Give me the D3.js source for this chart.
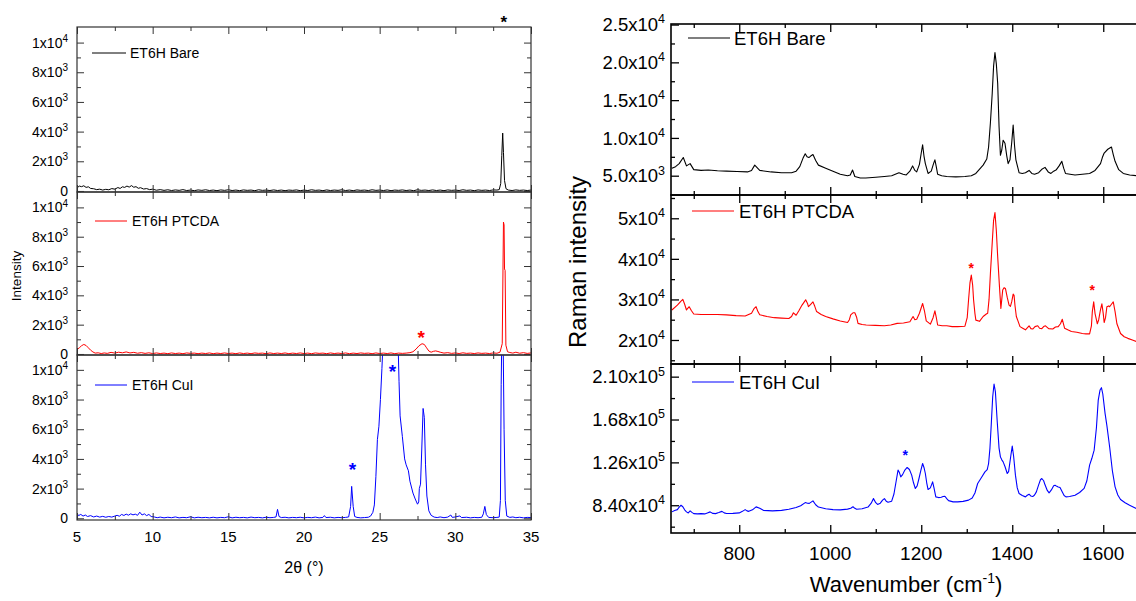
<!DOCTYPE html>
<html>
<head>
<meta charset="utf-8">
<script src="https://d3js.org/d3.v7.min.js"></script>
<style>
  body { margin: 0; background: #fff; }
  svg { font-family: "Liberation Sans", Arial, sans-serif; }
</style>
</head>
<body>
<svg width="1136" height="601"></svg>
<script>
// ---- XRD (left), 2theta vs counts
var xrdBare = [[5.0,200],[5.15,330],[5.3,290],[5.45,350],[5.6,240],[5.75,280],[5.9,170],[6.1,150],[6.3,90],[6.5,120],[6.7,60],[6.9,110],[7.1,80],[7.3,160],[7.5,120],[7.7,230],[7.85,170],[8.0,280],[8.15,240],[8.3,330],[8.45,260],[8.6,360],[8.75,250],[8.9,290],[9.05,180],[9.2,220],[9.4,130],[9.6,160],[9.8,90],[10.0,120],[10.25,50],[10.5,90],[10.75,40],[11.0,80],[11.25,30],[11.5,70],[11.75,40],[12.0,90],[12.25,30],[12.5,60],[12.75,20],[13.0,70],[13.25,40],[13.5,80],[13.75,30],[14.0,60],[14.25,20],[14.5,70],[14.75,40],[15.0,80],[15.25,30],[15.5,60],[15.75,20],[16.0,70],[16.25,40],[16.5,60],[16.75,20],[17.0,80],[17.25,40],[17.5,60],[17.75,30],[18.0,70],[18.25,30],[18.5,60],[18.75,20],[19.0,60],[19.25,40],[19.5,70],[19.75,20],[20.0,60],[20.25,30],[20.5,80],[20.75,40],[21.0,60],[21.25,20],[21.5,70],[21.75,30],[22.0,60],[22.25,40],[22.5,80],[22.75,30],[23.0,60],[23.25,20],[23.5,70],[23.75,40],[24.0,60],[24.25,30],[24.5,80],[24.75,40],[25.0,60],[25.25,30],[25.5,70],[25.75,20],[26.0,60],[26.25,40],[26.5,70],[26.75,30],[27.0,60],[27.25,20],[27.5,80],[27.75,40],[28.0,60],[28.25,30],[28.5,70],[28.75,30],[29.0,60],[29.25,20],[29.5,70],[29.75,40],[30.0,60],[30.25,30],[30.5,80],[30.75,40],[31.0,60],[31.25,20],[31.5,70],[31.75,40],[32.0,60],[32.25,30],[32.5,70],[32.75,60],[32.9,90],[33.0,500],[33.07,2400],[33.13,3900],[33.18,2600],[33.25,700],[33.35,150],[33.5,60],[33.75,30],[34.0,70],[34.25,40],[34.5,60],[34.75,30],[35.0,60]];

var xrdPtcda = [[5.0,300],[5.15,420],[5.3,560],[5.45,650],[5.6,580],[5.75,420],[5.9,260],[6.05,140],[6.2,60],[6.4,80],[6.6,30],[6.8,70],[7.0,40],[7.25,110],[7.5,60],[7.75,120],[8.0,80],[8.25,140],[8.5,70],[8.75,110],[9.0,50],[9.25,90],[9.5,40],[9.75,80],[10.0,30],[10.25,70],[10.5,30],[10.75,60],[11.0,20],[11.25,70],[11.5,30],[11.75,60],[12.0,20],[12.25,70],[12.5,40],[12.75,60],[13.0,20],[13.25,60],[13.5,30],[13.75,70],[14.0,20],[14.25,60],[14.5,30],[14.75,70],[15.0,30],[15.25,60],[15.5,20],[15.75,70],[16.0,30],[16.25,60],[16.5,20],[16.75,70],[17.0,40],[17.25,60],[17.5,20],[17.75,70],[18.0,30],[18.25,60],[18.5,30],[18.75,70],[19.0,20],[19.25,60],[19.5,30],[19.75,70],[20.0,30],[20.25,60],[20.5,20],[20.75,70],[21.0,40],[21.25,60],[21.5,20],[21.75,70],[22.0,30],[22.25,60],[22.5,30],[22.75,70],[23.0,20],[23.25,60],[23.5,30],[23.75,70],[24.0,40],[24.25,60],[24.5,20],[24.75,70],[25.0,30],[25.25,60],[25.5,30],[25.75,70],[26.0,20],[26.25,60],[26.5,40],[26.75,60],[27.0,90],[27.2,150],[27.4,330],[27.6,560],[27.8,700],[27.95,650],[28.1,420],[28.25,200],[28.4,120],[28.55,180],[28.7,210],[28.85,170],[29.0,120],[29.25,60],[29.5,90],[29.75,40],[30.0,70],[30.25,30],[30.5,80],[30.75,40],[31.0,60],[31.25,30],[31.5,70],[31.75,40],[32.0,60],[32.25,30],[32.5,70],[32.75,50],[32.95,120],[33.1,700],[33.18,9000],[33.22,8800],[33.25,5800],[33.29,5700],[33.34,600],[33.45,150],[33.6,100],[33.8,60],[34.0,120],[34.25,50],[34.5,90],[34.75,40],[35.0,70]];

var xrdCui = [[5.0,340],[5.1,180],[5.25,260],[5.4,150],[5.55,220],[5.7,120],[5.9,180],[6.1,90],[6.3,150],[6.5,80],[6.7,130],[6.9,70],[7.1,120],[7.3,80],[7.5,150],[7.65,200],[7.8,140],[7.95,260],[8.1,190],[8.25,280],[8.4,210],[8.55,300],[8.7,230],[8.85,280],[9.0,200],[9.15,410],[9.3,220],[9.45,300],[9.6,180],[9.75,260],[9.9,120],[10.1,90],[10.3,40],[10.5,80],[10.75,30],[11.0,70],[11.25,40],[11.5,90],[11.75,30],[12.0,60],[12.25,40],[12.5,100],[12.75,30],[13.0,70],[13.25,40],[13.5,60],[13.75,30],[14.0,70],[14.25,30],[14.5,60],[14.75,40],[15.0,100],[15.25,30],[15.5,70],[15.75,40],[16.0,60],[16.25,30],[16.5,80],[16.75,40],[17.0,60],[17.25,30],[17.5,70],[17.75,40],[18.0,60],[18.15,90],[18.25,600],[18.35,120],[18.5,50],[18.75,70],[19.0,30],[19.25,60],[19.5,40],[19.75,70],[20.0,30],[20.25,60],[20.5,40],[20.75,80],[21.0,30],[21.25,60],[21.35,180],[21.45,50],[21.75,70],[22.0,30],[22.25,60],[22.5,40],[22.75,60],[22.95,90],[23.08,800],[23.15,2150],[23.25,800],[23.35,120],[23.5,60],[23.75,30],[24.0,50],[24.25,70],[24.4,150],[24.55,400],[24.65,900],[24.75,2800],[24.85,5300],[24.95,6200],[25.05,8000],[25.15,10100],[25.25,12500],[25.5,14000],[26.0,14000],[26.2,12500],[26.28,9200],[26.35,6900],[26.5,5500],[26.65,4000],[26.75,3600],[26.9,3200],[27.0,2500],[27.2,1700],[27.35,1300],[27.5,950],[27.58,1100],[27.62,2000],[27.7,2300],[27.78,4600],[27.87,7400],[27.95,6800],[28.03,3600],[28.12,1500],[28.25,500],[28.4,200],[28.6,80],[28.8,50],[29.0,90],[29.25,40],[29.5,80],[29.7,220],[29.8,60],[30.0,90],[30.3,160],[30.4,50],[30.75,70],[31.0,30],[31.25,60],[31.5,40],[31.75,70],[31.85,300],[31.95,800],[32.05,250],[32.2,60],[32.5,40],[32.75,60],[32.9,80],[32.98,1200],[33.03,9000],[33.08,13000],[33.15,13000],[33.22,6000],[33.3,1200],[33.4,150],[33.6,60],[33.8,90],[34.0,40],[34.25,70],[34.5,30],[34.75,60],[35.0,50]];

// ---- Raman (right), wavenumber vs counts
var ramanBare = [[652,5970],[660,6200],[668,6600],[677,7400],[684,6300],[692,6600],[700,5800],[716,5700],[732,5750],[752,5650],[772,5600],[795,5550],[818,5500],[827,5700],[834,6400],[845,5700],[870,5500],[893,5400],[915,5400],[925,5600],[933,6200],[940,7300],[945,7900],[949,7500],[953,7400],[957,7600],[962,7800],[968,7000],[974,6400],[990,6000],[1006,5600],[1022,5200],[1038,5000],[1044,5100],[1049,5750],[1054,4900],[1066,4700],[1078,4700],[1100,4800],[1119,4900],[1135,5000],[1151,5400],[1160,5200],[1167,5100],[1175,5600],[1181,6300],[1186,5700],[1190,5500],[1196,6500],[1200,8000],[1203,9100],[1206,7600],[1209,6600],[1215,5300],[1222,5600],[1227,6600],[1230,7100],[1233,6200],[1236,5200],[1245,5000],[1256,4900],[1276,4850],[1296,4900],[1310,5000],[1320,5300],[1336,6400],[1344,7200],[1348,8800],[1352,12000],[1356,15900],[1359,19500],[1362,21300],[1365,19800],[1368,17200],[1371,11500],[1374,7700],[1377,8400],[1380,9700],[1384,9300],[1388,7600],[1391,6600],[1395,7100],[1399,9500],[1402,11700],[1405,9000],[1408,7100],[1415,5400],[1422,5300],[1429,5400],[1437,5700],[1443,5300],[1449,5200],[1458,5400],[1466,5900],[1472,6100],[1479,5500],[1485,5300],[1491,5600],[1497,5800],[1503,6300],[1509,6900],[1513,6000],[1517,5300],[1527,5200],[1538,5100],[1554,5200],[1570,5300],[1582,5700],[1590,6300],[1594,6600],[1598,7400],[1602,8000],[1610,8500],[1618,8800],[1622,7800],[1626,6900],[1634,5800],[1644,5300],[1658,5100],[1673,5000],[1690,4950]];

var ramanPtcda = [[652,27400],[664,28600],[672,29600],[676,30000],[680,28800],[684,27400],[690,28200],[695,27200],[700,26400],[716,26300],[732,26300],[752,26300],[772,26200],[793,26000],[813,25900],[827,26600],[833,27800],[837,28200],[841,27000],[845,26200],[861,25800],[877,25500],[893,25400],[909,25300],[915,25800],[919,26700],[925,26100],[931,27200],[938,28600],[946,29900],[950,29000],[952,28200],[957,28800],[962,29400],[966,28300],[970,27000],[980,26300],[990,25800],[1006,25200],[1022,24700],[1038,24300],[1042,25000],[1045,26200],[1050,26700],[1054,26700],[1058,25600],[1061,24100],[1070,23800],[1079,23700],[1099,23600],[1119,23500],[1133,23700],[1147,24100],[1161,24200],[1175,24500],[1182,25800],[1186,25000],[1190,25100],[1196,26600],[1203,29000],[1207,27200],[1211,24700],[1220,23900],[1226,25500],[1230,27200],[1233,25600],[1236,23700],[1246,23500],[1256,23500],[1268,23300],[1280,23300],[1296,23400],[1301,25500],[1304,29900],[1307,34000],[1310,36000],[1313,33500],[1315,29900],[1318,26500],[1320,24900],[1328,24600],[1336,25800],[1343,26400],[1346,26600],[1349,30000],[1352,36400],[1356,44000],[1359,49500],[1362,51400],[1365,47000],[1368,40500],[1372,33000],[1375,27800],[1379,32300],[1382,32900],[1385,32700],[1389,30500],[1393,28600],[1396,28300],[1399,29500],[1402,31300],[1404,31000],[1406,28500],[1409,25800],[1417,23300],[1423,22900],[1429,22500],[1433,23000],[1437,23500],[1441,22800],[1445,22700],[1450,23300],[1456,23500],[1460,22900],[1465,22800],[1469,23300],[1473,23500],[1480,22800],[1489,22700],[1495,23200],[1501,23300],[1506,24000],[1510,25100],[1515,22900],[1522,22500],[1530,22100],[1542,21900],[1554,21600],[1562,21500],[1570,21500],[1574,23500],[1576,27000],[1579,29400],[1582,26500],[1587,24000],[1590,25000],[1594,27500],[1597,28900],[1600,26500],[1602,24300],[1605,25500],[1608,28200],[1612,28400],[1614,28200],[1618,28800],[1622,29400],[1626,27000],[1630,24000],[1638,21600],[1646,20800],[1654,20400],[1664,20000],[1673,19600],[1690,19300]];

var ramanCui = [[652,77500],[658,78800],[664,79700],[668,82200],[672,84000],[676,82500],[680,79500],[684,77500],[688,76500],[692,78500],[696,77000],[700,75800],[708,75500],[716,75800],[724,75500],[730,76500],[736,77500],[742,76000],[748,75800],[755,76800],[762,78000],[767,76500],[772,75900],[786,76000],[800,76500],[807,78000],[813,79700],[817,78500],[821,78000],[829,79500],[837,82400],[845,81000],[853,79000],[873,78500],[893,79000],[909,80000],[925,81700],[935,83500],[945,86600],[950,86000],[954,85800],[962,88300],[968,84500],[974,82200],[990,80500],[1006,79700],[1022,79500],[1038,80200],[1045,81000],[1050,82500],[1054,81000],[1058,80000],[1070,80500],[1083,82200],[1090,86000],[1095,90500],[1100,86500],[1104,84800],[1110,86000],[1115,89000],[1119,90500],[1123,88000],[1127,87000],[1135,88000],[1140,95000],[1145,108000],[1149,118400],[1152,116000],[1155,111800],[1159,114000],[1164,118500],[1169,121000],[1174,119000],[1179,113500],[1183,106000],[1187,100400],[1191,103000],[1195,110200],[1199,118000],[1203,124900],[1206,121000],[1209,115100],[1212,106000],[1215,99400],[1220,101000],[1225,106900],[1228,101000],[1232,92200],[1238,91500],[1244,91800],[1248,92500],[1252,92800],[1256,90500],[1260,88500],[1270,87300],[1280,87300],[1292,87800],[1304,89000],[1312,91000],[1318,96000],[1324,105300],[1332,111000],[1340,116700],[1345,119000],[1348,124900],[1351,140000],[1354,164200],[1357,190000],[1360,202800],[1363,195000],[1367,165800],[1371,140000],[1374,131400],[1377,128500],[1380,126500],[1384,122000],[1389,115100],[1392,117000],[1394,123300],[1397,133000],[1400,141900],[1403,132000],[1407,113500],[1411,101000],[1415,95500],[1422,93500],[1429,92200],[1433,93800],[1437,94800],[1441,93000],[1445,92500],[1449,94000],[1453,97100],[1458,104000],[1462,109000],[1465,110200],[1469,108000],[1472,104000],[1477,98500],[1481,96100],[1486,99000],[1491,103000],[1494,103600],[1498,102500],[1501,101800],[1505,101300],[1510,97000],[1514,93500],[1518,92200],[1526,92500],[1538,93800],[1548,96500],[1558,100500],[1564,108000],[1570,123300],[1575,130000],[1580,138000],[1585,160000],[1589,187000],[1593,197000],[1596,199200],[1599,193000],[1604,174000],[1608,162000],[1614,141300],[1620,118000],[1626,102000],[1632,94000],[1638,89600],[1648,86500],[1658,84000],[1668,81800],[1673,80700],[1690,79500]];

// ticks
var xrdXTicks = [5, 10, 15, 20, 25, 30, 35];
var xrdXMinor = [7.5, 12.5, 17.5, 22.5, 27.5, 32.5];
var xrdYTicks = [0, 2000, 4000, 6000, 8000, 10000];
var xrdYMinor = [1000, 3000, 5000, 7000, 9000];
var ramanXTicks = [800, 1000, 1200, 1400, 1600];
var ramanXMinor = [700, 900, 1100, 1300, 1500, 1700];
var bareYTicks = [5000, 10000, 15000, 20000, 25000];
var bareYMinor = [7500, 12500, 17500, 22500];
var ptcdaYTicks = [20000, 30000, 40000, 50000];
var ptcdaYMinor = [15000, 25000, 35000, 45000, 55000];
var cuiYTicks = [84000, 126000, 168000, 210000];
var cuiYMinor = [63000, 105000, 147000, 189000];

var names = ["ET6H Bare", "ET6H PTCDA", "ET6H CuI"];
var colors = ["#000000", "#ff0000", "#0000ff"];

var svg = d3.select("svg");
svg.append("rect").attr("width", 1136).attr("height", 601).attr("fill", "#fff");

var xL = d3.scaleLinear().domain([5, 35]).range([77, 531]);
var xR = d3.scaleLinear().domain([650, 1700]).range([671, 1148.75]);

var panels = [
  // left
  {x: xL, y: d3.scaleLinear().domain([-70, 11050]).range([192, 27]), data: xrdBare, c: 0,
   yt: xrdYTicks, ym: xrdYMinor, dec: 0, xt: xrdXTicks, xm: xrdXMinor, side: "L", last: false,
   leg: [92, 126, 53, 130]},
  {x: xL, y: d3.scaleLinear().domain([-70, 11050]).range([355, 192]), data: xrdPtcda, c: 1,
   yt: xrdYTicks, ym: xrdYMinor, dec: 0, xt: xrdXTicks, xm: xrdXMinor, side: "L", last: false,
   leg: [95, 127, 221, 132]},
  {x: xL, y: d3.scaleLinear().domain([-115, 11000]).range([520, 355]), data: xrdCui, c: 2,
   yt: xrdYTicks, ym: xrdYMinor, dec: 0, xt: xrdXTicks, xm: xrdXMinor, side: "L", last: true,
   leg: [95, 127, 385, 132]},
  // right
  {x: xR, y: d3.scaleLinear().domain([2446, 25076]).range([195, 24]), data: ramanBare, c: 0,
   yt: bareYTicks, ym: bareYMinor, dec: 1, xt: ramanXTicks, xm: ramanXMinor, side: "R", last: false,
   leg: [688, 730, 38, 734]},
  {x: xR, y: d3.scaleLinear().domain([14080, 55740]).range([364, 195]), data: ramanPtcda, c: 1,
   yt: ptcdaYTicks, ym: ptcdaYMinor, dec: 0, xt: ramanXTicks, xm: ramanXMinor, side: "R", last: false,
   leg: [692, 734, 211, 739]},
  {x: xR, y: d3.scaleLinear().domain([56800, 222400]).range([533, 364]), data: ramanCui, c: 2,
   yt: cuiYTicks, ym: cuiYMinor, dec: 2, xt: ramanXTicks, xm: ramanXMinor, side: "R", last: true,
   leg: [692, 734, 382, 739]}
];

function sciParts(v, dec) {
  if (v === 0) return ["0", null];
  var e = Math.floor(Math.log10(v) + 1e-9);
  var m = v / Math.pow(10, e);
  return [m.toFixed(dec) + "x10", String(e)];
}

panels.forEach(function(p, i) {
  var L = p.side === "L";
  var fs = L ? 14 : 18.5, sfs = L ? 10 : 12.5, lfs = L ? 14 : 18.5, xfs = L ? 15 : 19;
  var major = L ? 7 : 8, minor = 4;
  var axColor = L ? "#333" : "#000";
  var x0 = p.x.range()[0], x1 = p.x.range()[1];
  var yb = p.y.range()[0], yt = p.y.range()[1];
  var g = svg.append("g");

  var cid = "clip" + i;
  svg.append("clipPath").attr("id", cid).append("rect")
    .attr("x", x0).attr("y", yt).attr("width", x1 - x0).attr("height", yb - yt);

  var line = d3.line().x(function(d) { return p.x(d[0]); }).y(function(d) { return p.y(d[1]); });
  g.append("path").datum(p.data)
    .attr("clip-path", "url(#" + cid + ")")
    .attr("fill", "none").attr("stroke", colors[p.c])
    .attr("stroke-width", L ? 1 : 1.1).attr("stroke-linejoin", "round")
    .attr("d", line);

  function tickAxis(axisFn, scale, vals, len, tr) {
    var a = g.append("g").attr("transform", tr)
      .call(axisFn(scale).tickValues(vals).tickSizeInner(-len).tickSizeOuter(0).tickFormat(""));
    a.select(".domain").remove();
    a.selectAll(".tick line").attr("stroke", axColor).attr("stroke-width", L ? 1 : 1.3);
    return a;
  }
  // inward ticks on all sides
  tickAxis(d3.axisLeft, p.y, p.yt, major, "translate(" + x0 + ",0)");
  tickAxis(d3.axisLeft, p.y, p.ym, minor, "translate(" + x0 + ",0)");
  tickAxis(d3.axisRight, p.y, p.yt, major, "translate(" + x1 + ",0)");
  tickAxis(d3.axisRight, p.y, p.ym, minor, "translate(" + x1 + ",0)");
  tickAxis(d3.axisBottom, p.x, p.xt, major, "translate(0," + yb + ")");
  tickAxis(d3.axisBottom, p.x, p.xm, minor, "translate(0," + yb + ")");
  tickAxis(d3.axisTop, p.x, p.xt, major, "translate(0," + yt + ")");
  tickAxis(d3.axisTop, p.x, p.xm, minor, "translate(0," + yt + ")");

  // frame
  g.append("rect").attr("x", x0).attr("y", yt).attr("width", x1 - x0).attr("height", yb - yt)
    .attr("fill", "none").attr("stroke", axColor).attr("stroke-width", L ? 1.2 : 1.6);

  // y labels with superscript
  var pad = L ? 9 : 6;
  p.yt.forEach(function(v) {
    var parts = sciParts(v, p.dec);
    var t = g.append("text").attr("x", x0 - pad).attr("y", p.y(v) + fs * 0.36)
      .attr("text-anchor", "end").attr("font-size", fs).attr("fill", "#000");
    if (parts[1] === null) { t.text(parts[0]); return; }
    t.append("tspan").text(parts[0]);
    t.append("tspan").attr("dy", -fs * 0.42).attr("font-size", sfs).text(parts[1]);
  });

  // x labels on bottom panel
  if (p.last) {
    p.xt.forEach(function(v) {
      g.append("text").attr("x", p.x(v)).attr("y", yb + (L ? 22 : 27))
        .attr("text-anchor", "middle").attr("font-size", xfs).attr("fill", "#000").text(v);
    });
  }

  // legend
  var lg = p.leg;
  g.append("line").attr("x1", lg[0]).attr("x2", lg[1]).attr("y1", lg[2]).attr("y2", lg[2])
    .attr("stroke", colors[p.c]).attr("stroke-width", L ? 1 : 1.2);
  g.append("text").attr("x", lg[3]).attr("y", lg[2] + lfs * 0.36).attr("font-size", lfs)
    .attr("fill", "#000").text(names[p.c]);
});

// axis titles
svg.append("text").attr("x", 304).attr("y", 573).attr("text-anchor", "middle")
  .attr("font-size", 16).text("2\u03b8 (\u00b0)");
svg.append("text").attr("transform", "translate(21,276) rotate(-90)").attr("text-anchor", "middle")
  .attr("font-size", 13.5).text("Intensity");
svg.append("text").attr("transform", "translate(586,262) rotate(-90)").attr("text-anchor", "middle")
  .attr("font-size", 24).text("Raman intensity");
var wt = svg.append("text").attr("x", 906).attr("y", 592).attr("text-anchor", "middle").attr("font-size", 22);
wt.append("tspan").text("Wavenumber (cm");
wt.append("tspan").attr("dy", -9).attr("font-size", 14).text("-1");
wt.append("tspan").attr("dy", 9).text(")");

// peak markers
var stars = [
  [xL(33.2), 18, "#000", 17],
  [xL(27.75), 333, "#ff0000", 19],
  [xL(23.2), 465, "#0000ff", 19],
  [xL(25.85), 367, "#0000ff", 19],
  [xR(1310), 265, "#ff0000", 14],
  [xR(1576), 287, "#ff0000", 14],
  [xR(1165), 452, "#0000ff", 14]
];
stars.forEach(function(s) {
  svg.append("text").attr("x", s[0]).attr("y", s[1] + s[3] * 0.57).attr("text-anchor", "middle")
    .attr("font-size", s[3]).attr("font-weight", "bold").attr("fill", s[2]).text("*");
});
</script>
</body>
</html>
